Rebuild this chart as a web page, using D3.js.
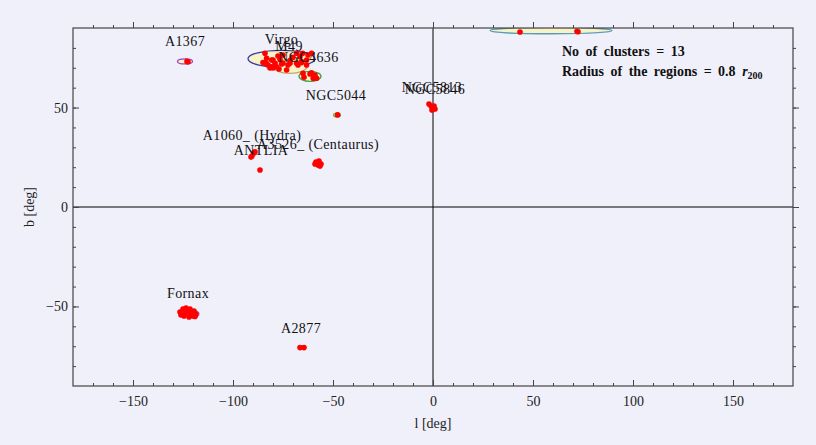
<!DOCTYPE html>
<html>
<head>
<meta charset="utf-8">
<script src="https://cdn.jsdelivr.net/npm/d3@7"></script>
<style>
  body { margin: 0; background: #f0f0fb; }
  text { font-family: "Liberation Serif", "DejaVu Serif", serif; }
</style>
</head>
<body>
<div id="sky"></div>
<script>
// cluster centres (galactic l, b in degrees) and their labels
var clusterNames = ["A1367", "Virgo", "M49", "NGC4636", "NGC5044", "NGC5813", "NGC5846",
                    "A1060_ (Hydra)", "ANTLIA", "A3526_ (Centaurus)", "Fornax", "A2877", "Coma"];
var clusterL = [-124, -75.75, -72, -62.25, -48.5, -0.5, 1, -90.5, -86, -57.5, -122.5, -66, 59];
var clusterB = [73.2, 74.5, 70.9, 65.5, 46.2, 50.3, 49.1, 26.2, 18.7, 21.8, -53.2, -70.7, 88.7];

// selection regions (centre and half axes, degrees)
var regionL  = [-124, -75.75, -71.5, -61.5, -48, -119.5, 59];
var regionB  = [73.2, 74.5, 70.6, 65.7, 46.2, -53.8, 88.7];
var regionRl = [3.75, 16.75, 8.5, 5.5, 1.75, 2.5, 30.5];
var regionRb = [1.25, 4.3, 3.4, 2.5, 1, 1.7, 1.6];
var regionStroke = ["#a040c0", "#3a3aa0", "#c0a860", "#40a040", "#70b040", "#b070c0", "#5a9ab8"];

// member galaxies
var galaxyL = [
  -123, -122.5,
  -84, -83.5, -82.5, -80.7, -77.5, -76.5, -78.2, -73.2, -70, -68.2, -65.2, -65.7, -60.7, -63.2,
  -67.5, -71.5, -75, -83.2, -84, -85, -80, -80.7, -77, -72.5, -71.5, -68.2, -65.7, -63.2, -62.5,
  -66.5, -75, -79, -75.7, -80, -81.5,
  -65, -60.7, -59, -58.2, -59.9, -64.5, -61.5,
  -47.7,
  -2, -1, 0, 1, -0.5, 0.5,
  -90.5, -89.5, -91, -89,
  -86.5,
  -58.5, -57, -56, -57.5, -59, -56.5,
  -126.5, -125, -123.5, -121.5, -119.5, -118.5, -120, -122, -124.5, -126, -123, -121, -124, -119,
  -66.5, -64.5,
  43.5, 72, 72.5
];
var galaxyB = [
  73.2, 73.0,
  77.3, 72.6, 71.4, 73.9, 75.9, 74.3, 70.5, 68.9, 75.3, 77.3, 77.3, 73.1, 77.3, 71.4,
  71.4, 72.3, 72.3, 74.8, 72.3, 72.6, 73.9, 70.5, 69.4, 71.4, 73.6, 72.3, 72.6, 73.9, 76.4,
  75.6, 76.4, 72.3, 71.9, 69.9, 69.9,
  67.2, 67.5, 66.4, 64.7, 64.7, 65.2, 66.9,
  46.3,
  51.8, 50.8, 49.8, 49.3, 48.8, 50.8,
  25.6, 27.2, 25.1, 27.7,
  18.6,
  22.6, 23.1, 21.6, 21.1, 21.6, 20.6,
  -52.8, -51.3, -50.8, -51.3, -52.3, -53.8, -54.8, -55.3, -54.8, -54.3, -52.8, -53.3, -53.5, -55,
  -70.7, -70.7,
  88, 88.4, 88.1
];

var xMajor = [-150, -100, -50, 0, 50, 100, 150];
var yMajor = [-50, 0, 50];

var W = 816, H = 445;
var margin = {top: 28, right: 23, bottom: 59, left: 73},
    width = W - margin.left - margin.right,
    height = H - margin.top - margin.bottom;

var svg = d3.select("#sky").append("svg")
    .attr("width", W)
    .attr("height", H);

var g = svg.append("g")
    .attr("transform", "translate(" + margin.left + "," + margin.top + ")");

var x = d3.scaleLinear().domain([-180, 180]).range([0, width]);
var y = d3.scaleLinear().domain([-90, 90]).range([height, 0]);

g.append("clipPath").attr("id", "plotclip")
  .append("rect").attr("width", width).attr("height", height);

// zero lines
g.append("line")
    .attr("x1", x(0)).attr("x2", x(0)).attr("y1", 0).attr("y2", height)
    .attr("stroke", "#000").attr("stroke-width", 1);
g.append("line")
    .attr("x1", 0).attr("x2", width).attr("y1", y(0)).attr("y2", y(0))
    .attr("stroke", "#000").attr("stroke-width", 1);

var plot = g.append("g").attr("clip-path", "url(#plotclip)");

// regions
plot.selectAll("ellipse")
  .data(regionL)
  .enter().append("ellipse")
    .attr("cx", function(d) { return x(d); })
    .attr("cy", function(d, i) { return y(regionB[i]); })
    .attr("rx", function(d, i) { return x(d + regionRl[i]) - x(d); })
    .attr("ry", function(d, i) { return y(regionB[i] - regionRb[i]) - y(regionB[i]); })
    .style("fill", "#f7f3c6")
    .style("stroke", function(d, i) { return regionStroke[i]; })
    .style("stroke-width", 1.3);

// galaxies
plot.selectAll("circle")
  .data(galaxyL)
  .enter().append("circle")
    .attr("cx", function(d) { return x(d); })
    .attr("cy", function(d, i) { return y(galaxyB[i]); })
    .attr("r", 2.8)
    .style("fill", "#ff0000");

// cluster labels
plot.selectAll("text.lbl")
  .data(clusterNames)
  .enter().append("text")
    .attr("class", "lbl")
    .attr("x", function(d, i) { return x(clusterL[i]); })
    .attr("y", function(d, i) { return y(clusterB[i]) - 15; })
    .attr("text-anchor", "middle")
    .style("font-size", "14px")
    .style("letter-spacing", "0.4px")
    .style("fill", "#111")
    .text(function(d) { return d; });

// axes with inward ticks
function fmt(d) { return d < 0 ? "\u2212" + Math.abs(d) : d; }

function ticksX(axisFn, ty, labels) {
  g.append("g").attr("transform", "translate(0," + ty + ")")
    .call(axisFn(x).tickValues(d3.range(-170, 180, 10)).tickSize(axisFn === d3.axisBottom ? -3 : 3).tickFormat(""))
    .call(function(s) { s.select(".domain").remove(); s.selectAll("line").attr("stroke", "#444"); });
  var maj = g.append("g").attr("transform", "translate(0," + ty + ")")
    .call(axisFn(x).tickValues(xMajor).tickSize(axisFn === d3.axisBottom ? -6 : 6)
          .tickPadding(10).tickFormat(labels ? fmt : ""));
  maj.select(".domain").remove();
  maj.selectAll("line").attr("stroke", "#444");
  maj.selectAll("text").style("font-size", "14px").style("font-family", "Liberation Serif").attr("fill", "#222");
}
ticksX(d3.axisBottom, height, true);
ticksX(d3.axisTop, 0, false);

function ticksY(axisFn, tx, labels) {
  g.append("g").attr("transform", "translate(" + tx + ",0)")
    .call(axisFn(y).tickValues(d3.range(-80, 90, 10)).tickSize(axisFn === d3.axisLeft ? -3 : 3).tickFormat(""))
    .call(function(s) { s.select(".domain").remove(); s.selectAll("line").attr("stroke", "#444"); });
  var maj = g.append("g").attr("transform", "translate(" + tx + ",0)")
    .call(axisFn(y).tickValues(yMajor).tickSize(axisFn === d3.axisLeft ? -6 : 6)
          .tickPadding(5).tickFormat(labels ? fmt : ""));
  maj.select(".domain").remove();
  maj.selectAll("line").attr("stroke", "#444");
  maj.selectAll("text").style("font-size", "14px").style("font-family", "Liberation Serif").attr("fill", "#222");
}
ticksY(d3.axisLeft, 0, true);
ticksY(d3.axisRight, width, false);

// frame
g.append("rect")
    .attr("width", width).attr("height", height)
    .style("fill", "none").style("stroke", "#444").style("stroke-width", 1.2);

// axis titles
svg.append("text")
    .attr("x", margin.left + x(0)).attr("y", 428)
    .attr("text-anchor", "middle")
    .style("font-size", "14px").style("fill", "#222")
    .text("l [deg]");
svg.append("text")
    .attr("transform", "translate(34," + (margin.top + y(0)) + ") rotate(-90)")
    .attr("text-anchor", "middle")
    .style("font-size", "14px").style("fill", "#222")
    .text("b [deg]");

// info box
var info = svg.append("g").style("font-weight", "bold").style("font-size", "14px").style("fill", "#111");
info.append("text").attr("x", 562).attr("y", 56).style("word-spacing", "3px").text("No of clusters = 13");
var t2 = info.append("text").attr("x", 562).attr("y", 76).style("word-spacing", "3px");
t2.append("tspan").text("Radius of the regions = 0.8 ");
t2.append("tspan").style("font-style", "italic").text("r");
t2.append("tspan").attr("dy", 3).style("font-size", "10px").text("200");
</script>
</body>
</html>
